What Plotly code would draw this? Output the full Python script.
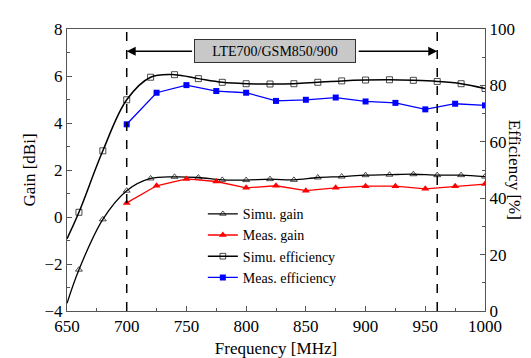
import plotly.graph_objects as go

freq_sim = [650, 660, 680, 700, 720, 740, 760, 780, 800, 820, 840, 860, 880, 900, 920, 940, 960, 980, 1000]
gain_sim = [-3.67, -2.24, -0.1, 1.12, 1.64, 1.71, 1.68, 1.58, 1.57, 1.61, 1.58, 1.68, 1.72, 1.78, 1.80, 1.82, 1.78, 1.78, 1.72]
eff_sim = [25.6, 35.0, 56.8, 74.9, 82.9, 83.8, 82.4, 81.1, 80.6, 80.5, 80.6, 81.1, 81.6, 81.9, 82.0, 81.8, 81.4, 80.6, 78.9]

freq_meas = [700, 725, 750, 775, 800, 825, 850, 875, 900, 925, 950, 975, 1000]
gain_meas = [0.60, 1.33, 1.62, 1.51, 1.24, 1.33, 1.12, 1.24, 1.31, 1.31, 1.20, 1.31, 1.40]
eff_meas = [66.2, 77.4, 80.1, 78.0, 77.4, 74.5, 74.9, 75.7, 74.3, 73.8, 71.5, 73.5, 72.9]

band_edges = [700, 960]
band_label = "LTE700/GSM850/900"

FONT = "Liberation Serif"
sim_sizes = [0] + [6] * (len(freq_sim) - 1)

fig = go.Figure()
fig.add_trace(go.Scatter(x=freq_sim, y=gain_sim, name="Simu. gain", mode="lines+markers",
                         line=dict(color="black", width=1.3, shape="spline"),
                         marker=dict(symbol="triangle-up-open", size=sim_sizes, color="black", line=dict(width=1))))
fig.add_trace(go.Scatter(x=freq_meas, y=gain_meas, name="Meas. gain", mode="lines+markers",
                         line=dict(color="red", width=1.3),
                         marker=dict(symbol="triangle-up", size=7, color="red")))
fig.add_trace(go.Scatter(x=freq_sim, y=eff_sim, name="Simu. efficiency", mode="lines+markers", yaxis="y2",
                         line=dict(color="black", width=1.5, shape="spline"),
                         marker=dict(symbol="square-open", size=sim_sizes, color="black", line=dict(width=1))))
fig.add_trace(go.Scatter(x=freq_meas, y=eff_meas, name="Meas. efficiency", mode="lines+markers", yaxis="y2",
                         line=dict(color="blue", width=1.3),
                         marker=dict(symbol="square", size=6, color="blue")))

for xe in band_edges:
    fig.add_shape(type="line", xref="x", yref="paper", x0=xe, x1=xe, y0=0, y1=1,
                  line=dict(color="black", width=1.5, dash="dash"))

fig.add_annotation(x=700, y=7.05, ax=756, ay=7.05, xref="x", yref="y", axref="x", ayref="y",
                   text="", showarrow=True, arrowhead=2, arrowsize=1.2, arrowwidth=1.5, arrowcolor="black")
fig.add_annotation(x=960, y=7.05, ax=893, ay=7.05, xref="x", yref="y", axref="x", ayref="y",
                   text="", showarrow=True, arrowhead=2, arrowsize=1.2, arrowwidth=1.5, arrowcolor="black")
fig.add_annotation(x=824.5, y=7.07, xref="x", yref="y", text=band_label, showarrow=False,
                   bgcolor="#c8c8c8", bordercolor="#333", borderwidth=1, width=158, height=20,
                   font=dict(family=FONT, size=14, color="black"))

fig.add_annotation(x=1.1, y=0.5, xref="paper", yref="paper", text="Efficiency [%]", textangle=90,
                   showarrow=False, font=dict(family=FONT, size=17, color="black"))

axis_common = dict(showgrid=False, zeroline=False, showline=True, linecolor="#555", linewidth=1,
                   ticks="inside", ticklen=5, tickcolor="#555",
                   tickfont=dict(family=FONT, size=17, color="black"))

fig.update_layout(
    width=531, height=358,
    margin=dict(l=59, r=54, t=15, b=55),
    paper_bgcolor="white", plot_bgcolor="white",
    font=dict(family=FONT, color="black"),
    xaxis=dict(range=[650, 1000], dtick=50, mirror=True,
               minor=dict(ticks="inside", ticklen=3, dtick=25, tickcolor="#555"),
               title=dict(text="Frequency [MHz]", font=dict(family=FONT, size=17), standoff=6),
               **axis_common),
    yaxis=dict(range=[-4, 8], dtick=2,
               minor=dict(ticks="inside", ticklen=3, dtick=1, tickcolor="#555"),
               title=dict(text="Gain [dBi]", font=dict(family=FONT, size=17), standoff=4),
               **axis_common),
    yaxis2=dict(range=[0, 100], dtick=20, overlaying="y", side="right",
                minor=dict(ticks="inside", ticklen=3, dtick=10, tickcolor="#555"),
                **axis_common),
    legend=dict(x=0.325, y=0.40, xanchor="left", yanchor="top", bgcolor="rgba(0,0,0,0)",
                font=dict(family=FONT, size=14), tracegroupgap=0, itemwidth=30),
    showlegend=True,
)

fig.write_html("out.html")
